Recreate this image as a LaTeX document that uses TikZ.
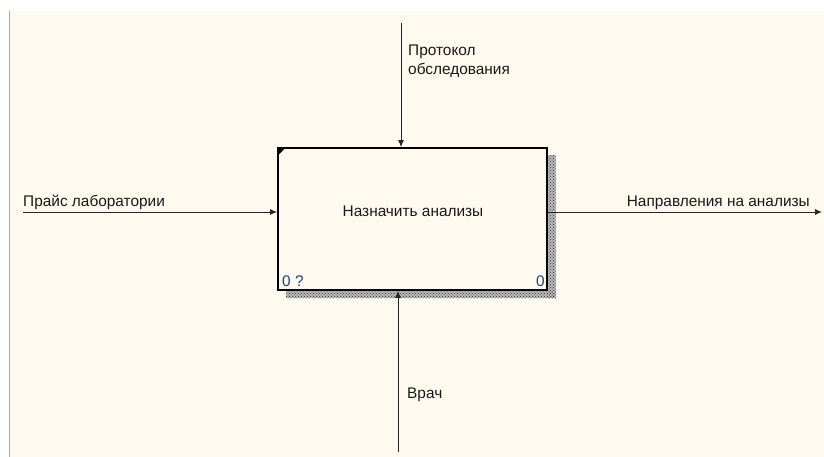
\documentclass[tikz,border=0pt]{standalone}
\usepackage{fontspec}
\setmainfont{Liberation Sans}
\usetikzlibrary{arrows.meta,patterns}
\definecolor{paper}{HTML}{FFFAEF}
\definecolor{numblue}{HTML}{22406A}
\tikzset{
	func/.style={draw, line width=1.6pt, fill=paper, minimum width=269pt, minimum height=142pt, inner sep=0pt},
	arr/.style={draw=black!85, line width=1pt, -{Latex[length=7pt,width=6pt]}},
	lbl/.style={inner sep=0pt, text=black!90}
}
\begin{document}
\begin{tikzpicture}[x=1pt, y=-1pt, font=\fontsize{15.4}{19}\selectfont, line join=miter]
			\useasboundingbox (0,0) rectangle (824,457);
			\fill[white] (0,0) rectangle (824,457);
			\fill[paper] (9.5,11) rectangle (824,457);
			\draw[black!35, line width=0.8pt] (9.5,11)--(9.5,457);
			% shadow of the box
			\fill[gray!55] (548,155) rectangle (556,298);
			\fill[gray!55] (286,291) rectangle (556,298);
			\fill[pattern=crosshatch dots, pattern color=black!80] (548,155) rectangle (556,298);
			\fill[pattern=crosshatch dots, pattern color=black!80] (286,291) rectangle (556,298);
			\node[func] (fn) at (412.5,219) {};
			\node[lbl] (fntext) at (413,211) {Назначить анализы};
			\fill[black] (fn.north west) -- ++(9,0) -- ++(-9,9) -- cycle;
			\node[lbl, text=numblue, anchor=base west] (nodeno) at (282,286) {0 ?};
			\node[lbl, text=numblue, anchor=base east] (cost) at (545,286) {0};
			% arrows
			\coordinate (ctl) at (401,23);
			\coordinate (mech) at (398,452);
			\coordinate (inp) at (23,212);
			\coordinate (outp) at (822,212);
			\draw[arr] (ctl) -- (ctl |- fn.north);
			\draw[arr] (mech) -- (mech |- fn.south);
			\draw[arr] (inp) -- (inp -| fn.west);
			\draw[arr] (outp -| fn.east) -- (outp);
			% labels
			\node[lbl, anchor=base west] (inlbl) at (23,206) {Прайс лаборатории};
			\node[lbl, anchor=base east] (outlbl) at (810,206) {Направления на анализы};
			\node[lbl, anchor=base west, align=left] (ctllbl) at (408,75) {Протокол\\обследования};
			\node[lbl, anchor=base west] (mechlbl) at (407,398) {Врач};
	\end{tikzpicture}
\end{document}
